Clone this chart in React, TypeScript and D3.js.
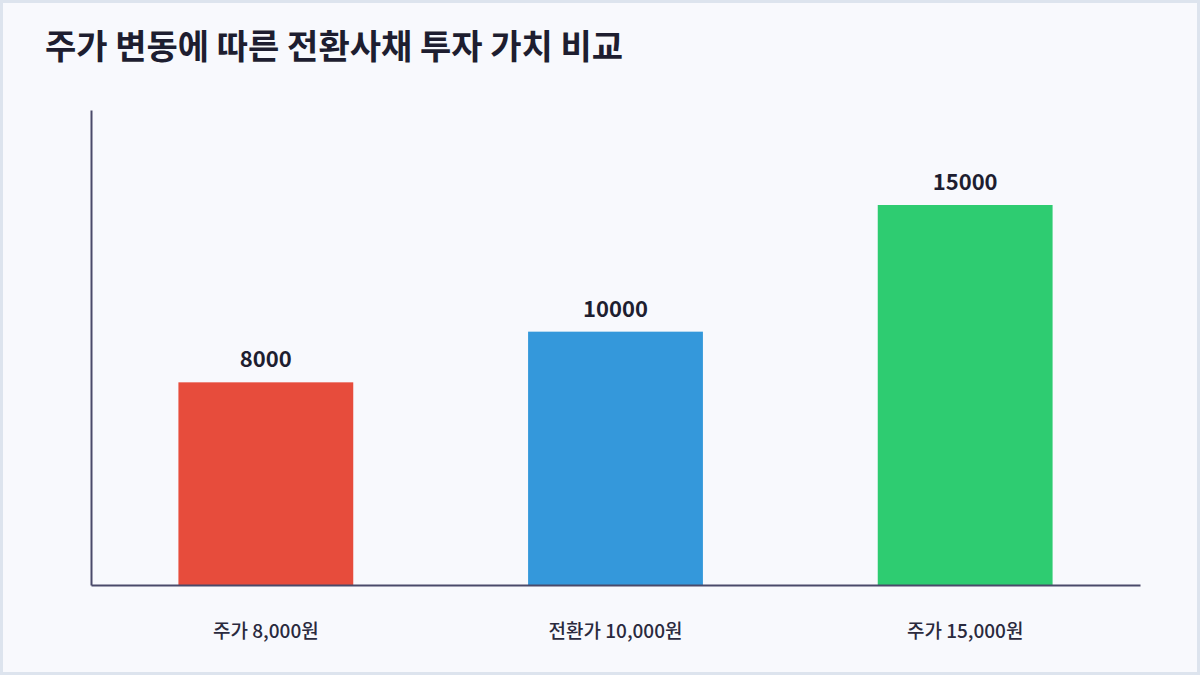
import { useEffect, useRef } from "react";
import * as d3 from "d3";

const categories = ["주가 8,000원", "전환가 10,000원", "주가 15,000원"];
const values = [8000, 10000, 15000];
const colors = ["#e74c3c", "#3498db", "#2ecc71"];
const title = "주가 변동에 따른 전환사채 투자 가치 비교";

const W = 1200;
const H = 675;

const App = () => {
  const svgRef = useRef<SVGSVGElement | null>(null);

  useEffect(() => {
    document.body.style.margin = "0";
    if (!svgRef.current) return;

    const margin = { top: 110, right: 60, bottom: 90, left: 91 };
    const width = 1140 - margin.left;
    const height = 585 - margin.top;

    const root = d3.select(svgRef.current);
    root.selectAll("*").remove();

    // 배경
    root
      .append("rect")
      .attr("x", 1.5)
      .attr("y", 1.5)
      .attr("width", W - 3)
      .attr("height", H - 3)
      .attr("fill", "#f8f9fd")
      .attr("stroke", "#dde4ee")
      .attr("stroke-width", 3);

    // 제목
    root
      .append("text")
      .attr("x", 45)
      .attr("y", 59)
      .attr("font-size", 34)
      .attr("font-weight", 700)
      .attr("fill", "#1e1e30")
      .text(title);

    const svg = root
      .append("g")
      .attr("transform", `translate(${margin.left},${margin.top})`);

    const x = d3
      .scaleBand<string>()
      .domain(categories)
      .range([0, width])
      .paddingInner(0.5)
      .paddingOuter(0.25);

    const y = d3
      .scaleLinear()
      .domain([0, (d3.max(values) as number) * 1.25])
      .range([height, 0]);

    // 막대
    svg
      .selectAll("rect.bar")
      .data(values)
      .join("rect")
      .attr("class", "bar")
      .attr("x", (_, i) => x(categories[i]) as number)
      .attr("y", (d) => y(d))
      .attr("width", x.bandwidth())
      .attr("height", (d) => height - y(d))
      .attr("fill", (_, i) => colors[i]);

    // 값 라벨
    svg
      .selectAll("text.val")
      .data(values)
      .join("text")
      .attr("class", "val")
      .attr("x", (_, i) => (x(categories[i]) as number) + x.bandwidth() / 2)
      .attr("y", (d) => y(d) - 15)
      .attr("text-anchor", "middle")
      .attr("font-size", 22)
      .attr("font-weight", 700)
      .attr("fill", "#1e1e30")
      .text((d) => String(d));

    // 축
    const axisColor = "#4a4a6a";
    const xAxis = svg
      .append("g")
      .attr("transform", `translate(0,${height})`)
      .call(d3.axisBottom(x).tickSize(0).tickPadding(0));
    xAxis.select(".domain").attr("stroke", axisColor).attr("stroke-width", 2);
    xAxis
      .selectAll("text")
      .attr("dy", 0)
      .attr("y", 53)
      .attr("font-size", 19)
      .attr("font-weight", 500)
      .attr("font-family", "'Noto Sans CJK KR', 'Noto Sans', sans-serif")
      .attr("fill", "#2a2a3e");

    const yAxis = svg.append("g").call(d3.axisLeft(y).ticks(0).tickSize(0).tickFormat(() => ""));
    yAxis.select(".domain").attr("stroke", axisColor).attr("stroke-width", 2);
  }, []);

  return (
    <svg
      ref={svgRef}
      width={W}
      height={H}
      style={{ display: "block", fontFamily: "'Noto Sans CJK KR', 'Noto Sans', sans-serif" }}
    ></svg>
  );
};

export default App;
